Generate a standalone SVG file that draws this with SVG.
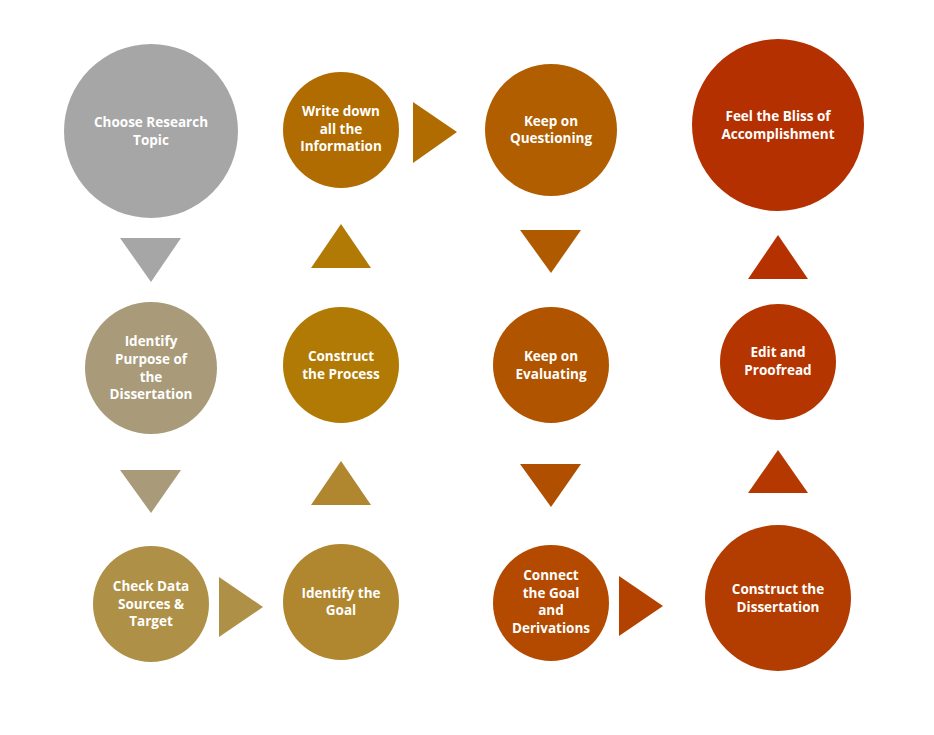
<svg xmlns="http://www.w3.org/2000/svg" width="934" height="735" viewBox="0 0 934 735">
<style>
text{font-family:"Open Sans","Liberation Sans",sans-serif;font-weight:bold;font-size:13.5px;fill:#fff;text-anchor:middle}
</style>
<rect width="934" height="735" fill="#fff"/>
<g id="connectors">
<polygon points="120,238 181,238 151,282" fill="#A6A6A6"/>
<polygon points="120,470 181,470 151,513" fill="#A99B79"/>
<polygon points="219,577 219,637 263,607" fill="#AE9047"/>
<polygon points="311,505 371,505 341,461" fill="#B0862F"/>
<polygon points="311,268 371,268 341,224" fill="#B07A05"/>
<polygon points="413,102 413,163 457,132" fill="#B06C00"/>
<polygon points="520,230 581,230 551,273" fill="#B05A00"/>
<polygon points="520,464 581,464 551,507" fill="#B14F00"/>
<polygon points="619,576 619,636 663,606" fill="#B34200"/>
<polygon points="748,493 808,493 778,450" fill="#B43800"/>
<polygon points="748,279 808,279 778,235" fill="#B53200"/>
</g>
<g id="n1"><circle cx="151" cy="131" r="87" fill="#A6A6A6"/><text x="151" y="127">Choose Research</text><text x="151" y="145">Topic</text></g>
<g id="n2"><circle cx="151" cy="368" r="66" fill="#A99B79"/><text x="151" y="346">Identify</text><text x="151" y="364">Purpose of</text><text x="151" y="382">the</text><text x="151" y="399">Dissertation</text></g>
<g id="n3"><circle cx="151" cy="604" r="58" fill="#AE9047"/><text x="151" y="591">Check Data</text><text x="151" y="609">Sources &amp;</text><text x="151" y="626">Target</text></g>
<g id="n4"><circle cx="341" cy="602" r="58" fill="#B0862F"/><text x="341" y="598">Identify the</text><text x="341" y="615">Goal</text></g>
<g id="n5"><circle cx="341" cy="365" r="58" fill="#B07A05"/><text x="341" y="361">Construct</text><text x="341" y="379">the Process</text></g>
<g id="n6"><circle cx="341" cy="130" r="58" fill="#B06C00"/><text x="341" y="116">Write down</text><text x="341" y="134">all the</text><text x="341" y="151">Information</text></g>
<g id="n7"><circle cx="551" cy="130" r="66" fill="#B05E00"/><text x="551" y="126">Keep on</text><text x="551" y="143">Questioning</text></g>
<g id="n8"><circle cx="551" cy="365" r="58" fill="#B05400"/><text x="551" y="361">Keep on</text><text x="551" y="379">Evaluating</text></g>
<g id="n9"><circle cx="551" cy="603" r="58" fill="#B34A00"/><text x="551" y="580">Connect</text><text x="551" y="598">the Goal</text><text x="551" y="615">and</text><text x="551" y="633">Derivations</text></g>
<g id="n10"><circle cx="778" cy="598" r="73" fill="#B33C00"/><text x="778" y="594">Construct the</text><text x="778" y="612">Dissertation</text></g>
<g id="n11"><circle cx="778" cy="362" r="58" fill="#B43500"/><text x="778" y="357">Edit and</text><text x="778" y="375">Proofread</text></g>
<g id="n12"><circle cx="778" cy="125" r="86" fill="#B53000"/><text x="778" y="121">Feel the Bliss of</text><text x="778" y="139">Accomplishment</text></g>
</svg>
